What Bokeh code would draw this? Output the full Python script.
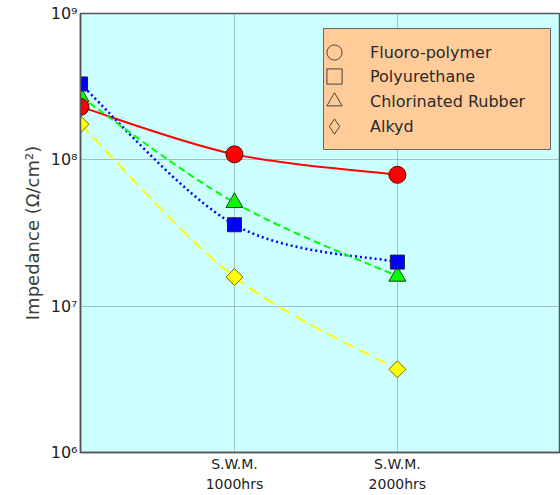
import math
from bokeh.plotting import figure
from bokeh.models import (Range1d, FixedTicker, CustomJSTickFormatter, BoxAnnotation,
                          Legend, LegendItem, ColumnDataSource)
from bokeh.embed import file_html
from bokeh.resources import INLINE

# ---------------- data ----------------
hours = [55, 1000, 2000]
x_tick_values = [1000, 2000]
x_tick_labels = ["S.W.M.\n1000hrs", "S.W.M.\n2000hrs"]
y_tick_values = [1e6, 1e7, 1e8, 1e9]
series_names = ["Fluoro-polymer", "Polyurethane", "Chlorinated Rubber", "Alkyd"]
fluoro = [2.3e8, 1.09e8, 7.9e7]
polyurethane = [3.3e8, 3.6e7, 2.0e7]
chlorinated = [2.7e8, 5.1e7, 1.6e7]
alkyd = [1.75e8, 1.58e7, 3.7e6]

# ---------------- figure ----------------
p = figure(width=560, height=495, output_backend="svg", toolbar_location=None,
           x_range=Range1d(55, 2995), y_range=Range1d(1e6, 1e9), y_axis_type="log",
           min_border_left=80, min_border_right=1, min_border_top=13, min_border_bottom=42)
p.background_fill_color = "#CCFFFF"
p.border_fill_color = "white"
p.outline_line_color = "#555555"
p.outline_line_width = 1.5

# axes
p.xaxis.ticker = FixedTicker(ticks=x_tick_values)
p.xaxis.formatter = CustomJSTickFormatter(
    args=dict(vals=x_tick_values, labels=x_tick_labels),
    code="const i = vals.indexOf(tick); return i >= 0 ? labels[i] : '';")
p.yaxis.ticker = FixedTicker(ticks=y_tick_values)
p.yaxis.formatter = CustomJSTickFormatter(code="""
const s = "\u2070\u00b9\u00b2\u00b3\u2074\u2075\u2076\u2077\u2078\u2079";
const e = Math.round(Math.log10(tick));
return "10" + String(e).split("").map(d => s[parseInt(d)]).join("");
""")
for ax in (p.xaxis[0], p.yaxis[0]):
    ax.major_tick_in = 0
    ax.major_tick_out = 0
    ax.minor_tick_line_color = None
    ax.axis_line_color = "#555555"
    ax.axis_line_width = 1.5
    ax.major_label_text_font = "DejaVu Sans"
    ax.major_label_text_color = "#222222"
p.xaxis.major_label_text_font_size = "14px"
p.xaxis.major_label_text_line_height = 1.3
p.xaxis.major_label_standoff = 3
p.yaxis.major_label_text_font_size = "16px"
p.yaxis.major_label_standoff = 3
p.yaxis.axis_label = "Impedance (\u03a9/cm\u00b2)"
p.yaxis.axis_label_text_font = "DejaVu Sans"
p.yaxis.axis_label_text_font_size = "18px"
p.yaxis.axis_label_text_font_style = "normal"
p.yaxis.axis_label_text_color = "#3a4038"
p.yaxis.axis_label_standoff = 5

# grid
for g in (p.xgrid[0], p.ygrid[0]):
    g.grid_line_color = "#808080"
    g.grid_line_dash = "1 1"
    g.grid_line_width = 1
    g.minor_grid_line_color = None


def smooth(xs, ys):
    """Bezier segments (Catmull-Rom style smoothing, as in a smoothed-line chart)."""
    ly = [math.log10(v) for v in ys]
    n = len(xs)
    d = dict(x0=[], y0=[], x1=[], y1=[], cx0=[], cy0=[], cx1=[], cy1=[])
    for i in range(n - 1):
        a = max(i - 1, 0)
        b = min(i + 2, n - 1)
        d["x0"].append(xs[i]); d["y0"].append(ys[i])
        d["x1"].append(xs[i + 1]); d["y1"].append(ys[i + 1])
        d["cx0"].append(xs[i] + (xs[i + 1] - xs[a]) / 6)
        d["cy0"].append(10 ** (ly[i] + (ly[i + 1] - ly[a]) / 6))
        d["cx1"].append(xs[i + 1] - (xs[b] - xs[i]) / 6)
        d["cy1"].append(10 ** (ly[i + 1] - (ly[b] - ly[i]) / 6))
    return ColumnDataSource(d)


styles = [
    (fluoro, "#FF0000", "solid", 2, "circle", 17, 0, "#600000"),
    (polyurethane, "#0000FF", "2 3", 2.5, "square", 14, 0, "#202040"),
    (chlorinated, "#00FF00", "7 4", 2, "triangle", 17, 0, "#204020"),
    (alkyd, "#FFFF00", "12 6", 2, "square", 12, math.pi / 4, "#707000"),
]

# lines
for vals, col, dash, lw, *_ in styles:
    p.bezier(x0="x0", y0="y0", x1="x1", y1="y1", cx0="cx0", cy0="cy0", cx1="cx1", cy1="cy1",
             source=smooth(hours, vals), line_color=col, line_width=lw, line_dash=dash)

# markers (drawing order: triangle, square, diamond, circle)
for idx in (2, 1, 3, 0):
    vals, col, dash, lw, mk, sz, ang, oc = styles[idx]
    p.scatter(hours, vals, marker=mk, size=sz, angle=ang, fill_color=col,
              line_color=oc, line_width=1)

# legend box
box = BoxAnnotation(left=243, right=470, top=424, bottom=303,
                    left_units="screen", right_units="screen",
                    top_units="screen", bottom_units="screen",
                    fill_color="#FFCC99", fill_alpha=1.0,
                    line_color="#666666", line_width=1, line_alpha=1.0)
p.add_layout(box)

legend_markers = ["circle", "square", "triangle", "diamond"]
legend_bottoms = [381, 357, 332, 307]
for name, mk, yb in zip(series_names, legend_markers, legend_bottoms):
    r = p.scatter([float("nan")], [float("nan")], marker=mk, fill_alpha=0,
                  line_color="#444444", line_width=1)
    lg = Legend(items=[LegendItem(label=name, renderers=[r])], location=(235, yb),
                glyph_width=38, glyph_height=38, padding=0, margin=0,
                label_standoff=17, label_text_font="DejaVu Sans",
                label_text_font_size="16px", label_text_color="#2a2a2a",
                background_fill_alpha=0, border_line_alpha=0)
    p.add_layout(lg)

with open("out.html", "w", encoding="utf-8") as f:
    f.write(file_html(p, INLINE))
